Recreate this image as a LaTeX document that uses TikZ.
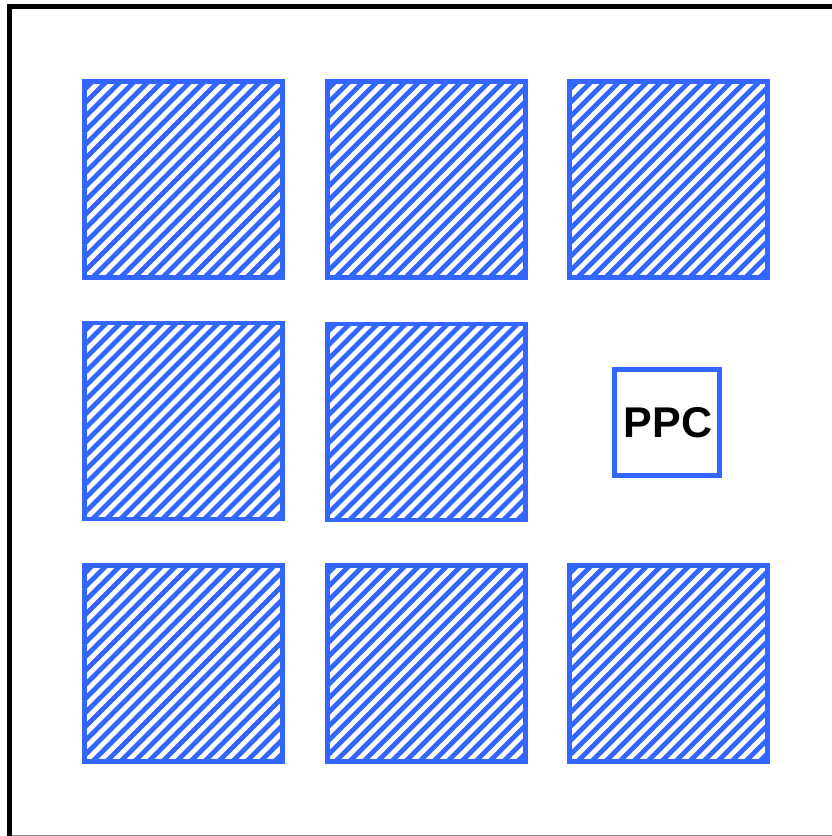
\documentclass[tikz,border=0pt]{standalone}
\usepackage{fontspec}
\newfontfamily\arialfont{Liberation Sans}
\definecolor{tileblue}{RGB}{51,102,255}
\definecolor{framegray}{RGB}{140,140,140}
\tikzset{
  tile/.style={draw=tileblue, line width=4.5pt, rectangle, inner sep=0pt,
    minimum width=198pt, minimum height=196pt},
  hatchline/.style={tileblue, line width=4.8pt},
  ppcbox/.style={draw=tileblue, line width=4.5pt, rectangle, inner sep=0pt,
    minimum width=105pt, minimum height=106pt, fill=white,
    font=\arialfont\bfseries\fontsize{43}{43}\selectfont}
}
\newcommand{\hatchtile}[3]{% name, cx, cy
  \begin{scope}
    \clip (#2-99,#3-98) rectangle (#2+99,#3+98);
    \foreach \k in {0,...,32}{
      \draw[hatchline] (#2-99-200+\k*14,#3+110) -- (#2-99-200+\k*14+220,#3-110);
    }
  \end{scope}
  \node[tile] (#1) at (#2,#3) {};
}
\begin{document}
\begin{tikzpicture}[x=1pt, y=-1pt]
\useasboundingbox (0,0) rectangle (832,836);
\fill[white] (0,0) rectangle (832,836);
% frame
\coordinate (tl) at (9.5,6.5);
\coordinate (bl) at (9.5,836);
\coordinate (tr) at (832,6.5);
\coordinate (gbl) at (12,835.3);
\coordinate (gbr) at (832,835.3);
\draw[line width=5.5pt, black] (bl) -- (tl) -- (tr);
\draw[line width=1.2pt, framegray] (gbl) -- (gbr);
% tiles
\hatchtile{t11}{183.5}{179.5}
\hatchtile{t12}{426.5}{179.5}
\hatchtile{t13}{668.5}{179.5}
\hatchtile{t21}{183.5}{421}
\hatchtile{t22}{426.5}{422}
\hatchtile{t31}{183.5}{663.5}
\hatchtile{t32}{426.5}{663.5}
\hatchtile{t33}{668.5}{663.5}
\node[ppcbox] (ppc) at (667,422.5) {\hspace{2pt}PPC};
\end{tikzpicture}
\end{document}
